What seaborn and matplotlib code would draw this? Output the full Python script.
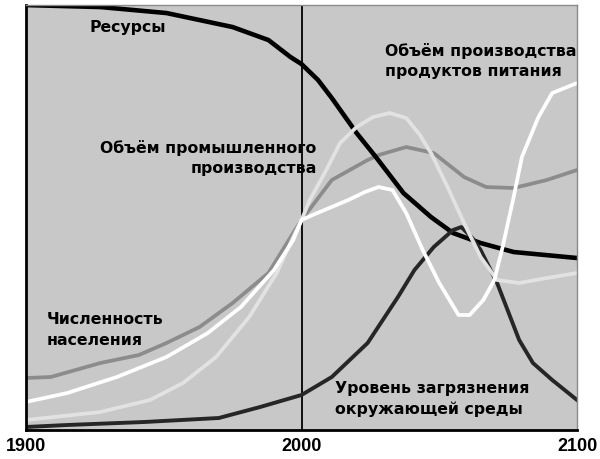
import pandas as pd
import seaborn as sns
import matplotlib.pyplot as plt

# values (arbitrary units, 0 = bottom, 425 = top)
res_years = [1900, 1927, 1951, 1975, 1988, 1996, 2000, 2006, 2011, 2020, 2027, 2037, 2047, 2055, 2065, 2077, 2100]
res_vals = [425, 423, 417, 403, 390, 373, 366, 350, 332, 297, 273, 237, 213, 197, 187, 178, 172]

pop_years = [1900, 1909, 1927, 1941, 1951, 1963, 1975, 1988, 1997, 2000, 2011, 2024, 2028, 2038, 2048, 2059, 2067, 2077, 2089, 2100]
pop_vals = [52, 53, 67, 75, 87, 103, 127, 157, 197, 210, 250, 270, 275, 283, 277, 253, 243, 242, 250, 260]

food_years = [1900, 1915, 1933, 1951, 1966, 1978, 1990, 1997, 2000, 2004, 2017, 2023, 2028, 2033, 2038,
              2044, 2050, 2057, 2061, 2066, 2070, 2073, 2077, 2080, 2086, 2091, 2100]
food_vals = [28, 37, 53, 73, 97, 123, 160, 190, 210, 215, 230, 238, 243, 240, 217,
             180, 147, 115, 115, 130, 150, 183, 233, 273, 313, 337, 347]

ind_years = [1900, 1927, 1945, 1957, 1969, 1981, 1991, 1997, 2000, 2003, 2009, 2014, 2020, 2026, 2032,
             2038, 2043, 2047, 2053, 2059, 2065, 2071, 2079, 2089, 2100]
ind_vals = [10, 18, 30, 47, 73, 113, 157, 193, 210, 230, 260, 287, 303, 313, 317,
            312, 295, 277, 243, 207, 173, 150, 147, 152, 157]

pol_years = [1900, 1915, 1943, 1970, 1985, 2000, 2011, 2024, 2035, 2041, 2048, 2055, 2058, 2062, 2065,
             2071, 2079, 2084, 2091, 2100]
pol_vals = [3, 5, 8, 12, 23, 35, 53, 87, 133, 160, 183, 200, 203, 192, 180,
            147, 90, 67, 50, 30]

tick_years = [1900, 2000, 2100]

series = [
    (pop_years, pop_vals, '#8c8c8c', 2.7),
    (res_years, res_vals, '#000000', 3.3),
    (pol_years, pol_vals, '#262626', 2.8),
    (ind_years, ind_vals, '#e2e2e2', 2.7),
    (food_years, food_vals, '#ffffff', 2.7),
]

plt.rcParams['font.family'] = ['Liberation Sans', 'DejaVu Sans']

fig = plt.figure(figsize=(6, 4.59), dpi=100)
ax = fig.add_axes([0.0433, 0.0632, 0.9184, 0.9258])
ax.set_facecolor('#c8c8c8')

ax.axvline(2000, color='black', lw=1.3, zorder=1)

for yrs, vals, col, lw in series:
    df = pd.DataFrame({'year': yrs, 'value': vals})
    sns.lineplot(data=df, x='year', y='value', color=col, lw=lw, ax=ax, zorder=2)

ax.set_xlim(1900, 2100)
ax.set_ylim(0, 425)
ax.set_xticks(tick_years)
ax.set_xticklabels([str(t) for t in tick_years], fontsize=13, fontweight='bold')
ax.tick_params(axis='x', length=0, pad=6)
ax.set_yticks([])
ax.set_xlabel('')
ax.set_ylabel('')

for side in ['left', 'bottom']:
    ax.spines[side].set_color('black')
    ax.spines[side].set_linewidth(2)
for side in ['top', 'right']:
    ax.spines[side].set_color('#8a8a8a')
    ax.spines[side].set_linewidth(1)

lab = dict(fontsize=11.3, fontweight='bold', color='black', va='center', zorder=5,
           family='DejaVu Sans', linespacing=1.45)
ax.text(1923, 403, 'Ресурсы', **lab)
ax.text(2005.5, 272, 'Объём промышленного\nпроизводства', ha='right', **lab)
ax.text(2030.3, 369, 'Объём производства\nпродуктов питания', ha='left', **lab)
ax.text(1907.6, 100, 'Численность\nнаселения', ha='left', **lab)
ax.text(2012.2, 31, 'Уровень загрязнения\nокружающей среды', ha='left', **lab)

fig.savefig('out.png', dpi=100, facecolor='white')
